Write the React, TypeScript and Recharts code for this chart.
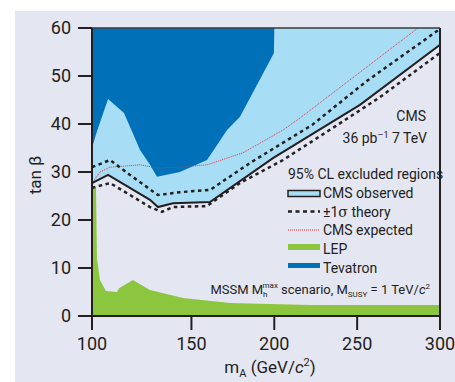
import {
  ComposedChart,
  Area,
  Line,
  XAxis,
  YAxis,
  ReferenceLine,
} from "recharts";

// m_A values (GeV/c^2) and tan(beta) values
const tevM = [90, 93, 99.7, 109.3, 119, 125, 129.2, 143, 159.4, 171.5, 179.3, 199.8, 200];
const tevT = [35, 38.5, 45.2, 42.3, 34.6, 31.5, 29, 30, 32.5, 38.75, 41.5, 54.8, 60];

const obsM = [90, 99.7, 125, 129.8, 138.9, 161.2, 199.2, 251.7, 300];
const obsT = [27.7, 29.4, 24.2, 22.7, 23.5, 23.75, 32.9, 44, 56.5];

const upM = [90, 100.9, 112.9, 129.8, 143.1, 161.2, 185.4, 222.8, 256, 300];
const upT = [31, 32.5, 29.4, 25.2, 25.8, 26.25, 31.9, 39.8, 49, 59.8];

const loM = [90, 100.9, 125, 132.2, 138.9, 159.4, 179.3, 205.3, 235.4, 263.8, 300];
const loT = [26.7, 27.7, 22.7, 21.7, 22.7, 22.9, 27.7, 32.5, 39.2, 45.6, 54.8];

const expM = [90, 94.8, 100.9, 119, 129.8, 141.3, 159.4, 181.1, 205.3, 215.5, 286.7];
const expT = [27.7, 30, 31, 31.5, 30.8, 31, 31.5, 34, 38.75, 41.25, 60];

const lepM = [90, 92.4, 93, 93.6, 94.8, 98.4, 105.1, 106.3, 114.7, 125, 144.9, 173.3, 221.6, 300];
const lepT = [26.9, 26.7, 12, 10.5, 7.5, 5.2, 5, 5.8, 7.5, 5.4, 3.75, 2.7, 2.3, 2.3];

const xTicks = [90, 150, 200, 250, 300];
const yTicks = [0, 10, 20, 30, 40, 50, 60];

const TOP = 60;
const FONT = "Roboto, 'Liberation Sans', sans-serif";
const INK = "#231f20";
const LIGHT = "#a8ddf6";
const DARK = "#0070b9";
const GREEN = "#8cc63f";
const RED = "#e8303a";

const zip = (m: number[], t: number[]) => m.map((v, i) => ({ m: v, t: t[i] }));
const band = (m: number[], t: number[]) =>
  m.map((v, i) => ({ m: v, range: [t[i], TOP] }));

const tevData = band(tevM, tevT);
const obsBand = band(obsM, obsT);
const obsData = zip(obsM, obsT);
const upData = zip(upM, upT);
const loData = zip(loM, loT);
const expData = zip(expM, expT);
const lepData = zip(lepM, lepT);

const Overlay = () => (
  <svg
    width={455}
    height={382}
    style={{ position: "absolute", left: 0, top: 0, pointerEvents: "none" }}
    fontFamily={FONT}
    fill={INK}
  >
    <text x={426} y={121} fontSize={14} textAnchor="end">CMS</text>
    <text x={427} y={143} fontSize={14} textAnchor="end">
      36 pb<tspan fontSize={9} dy={-5}>–1</tspan>
      <tspan dy={5}> 7 TeV</tspan>
    </text>
    <text x={288} y={179} fontSize={14}>95% CL excluded regions</text>

    <rect x={288} y={190.5} width={32} height={6} fill={LIGHT} stroke={INK} strokeWidth={1.5} />
    <text x={323} y={198} fontSize={14}>CMS observed</text>

    <line x1={288} x2={320} y1={211.5} y2={211.5} stroke={INK} strokeWidth={2.5} strokeDasharray="4 3.5" />
    <text x={323} y={216.5} fontSize={14}>
      ±1<tspan fontFamily="'DejaVu Serif', 'Liberation Serif', serif">σ</tspan> theory
    </text>

    <line x1={288} x2={320} y1={230} y2={230} stroke={RED} strokeWidth={1} strokeDasharray="1 1" />
    <text x={323} y={235} fontSize={14}>CMS expected</text>

    <rect x={288} y={244} width={32} height={6} fill={GREEN} />
    <text x={323} y={253.5} fontSize={14}>LEP</text>

    <rect x={288} y={263} width={32} height={5} fill={DARK} />
    <text x={323} y={272.5} fontSize={14}>Tevatron</text>

    <text x={430} y={293.5} fontSize={13} textAnchor="end">
      MSSM M<tspan fontSize={8} dy={3}>h</tspan>
      <tspan fontSize={8} dx={-5} dy={-9}>max</tspan>
      <tspan dy={6}> scenario, M</tspan>
      <tspan fontSize={8} dy={3}>SUSY</tspan>
      <tspan dy={-3}> = 1 TeV/</tspan>
      <tspan fontStyle="italic">c</tspan>
      <tspan fontSize={8} dy={-5}>2</tspan>
    </text>

    <text x={270} y={373} fontSize={17} textAnchor="middle">
      m<tspan fontSize={11} dy={4}>A</tspan>
      <tspan dy={-4}> (GeV/</tspan>
      <tspan fontStyle="italic">c</tspan>
      <tspan fontSize={11} dy={-7}>2</tspan>
      <tspan dy={7}>)</tspan>
    </text>

    <text x={41} y={175} fontSize={17} textAnchor="middle" transform="rotate(-90 41 175)">
      tan β
    </text>
  </svg>
);

export default function App() {
  return (
    <div
      style={{
        position: "absolute",
        left: 0,
        top: 0,
        width: 455,
        height: 382,
        background: "#ffffff",
        fontFamily: FONT,
      }}
    >
      <div
        style={{
          position: "absolute",
          left: 15,
          top: 11,
          width: 440,
          height: 371,
          background: "#e4e6f2",
        }}
      />
      <div style={{ position: "absolute", left: 0, top: 0 }}>
        <ComposedChart
          width={455}
          height={382}
          margin={{ top: 28, right: 15, bottom: 16, left: 32 }}
        >
          <Area
            data={obsBand}
            dataKey="range"
            type="linear"
            fill={LIGHT}
            fillOpacity={1}
            stroke="none"
            isAnimationActive={false}
          />
          <Area
            data={tevData}
            dataKey="range"
            type="linear"
            fill={DARK}
            fillOpacity={1}
            stroke="none"
            isAnimationActive={false}
          />
          <Area
            data={lepData}
            dataKey="t"
            type="linear"
            fill={GREEN}
            fillOpacity={1}
            stroke="none"
            baseValue={0}
            isAnimationActive={false}
          />
          <Line
            data={expData}
            dataKey="t"
            type="linear"
            stroke={RED}
            strokeWidth={1}
            strokeDasharray="1 1"
            dot={false}
            isAnimationActive={false}
          />
          <Line
            data={upData}
            dataKey="t"
            type="linear"
            stroke={INK}
            strokeWidth={2.5}
            strokeDasharray="3.5 3.5"
            dot={false}
            isAnimationActive={false}
          />
          <Line
            data={loData}
            dataKey="t"
            type="linear"
            stroke={INK}
            strokeWidth={2.5}
            strokeDasharray="3.5 3.5"
            dot={false}
            isAnimationActive={false}
          />
          <Line
            data={obsData}
            dataKey="t"
            type="linear"
            stroke={INK}
            strokeWidth={2}
            dot={false}
            isAnimationActive={false}
          />
          <ReferenceLine y={60} stroke="#3a3a3a" strokeWidth={1.5} />
          <ReferenceLine x={300} stroke={INK} strokeWidth={2} />
          <XAxis
            type="number"
            dataKey="m"
            domain={[90, 300]}
            ticks={xTicks}
            allowDataOverflow
            height={50}
            tickSize={14}
            tickMargin={7}
            tickFormatter={(v: number) => (v === 90 ? "100" : String(v))}
            tick={{ fill: INK, fontSize: 18, fontFamily: FONT }}
            axisLine={{ stroke: INK, strokeWidth: 2 }}
            tickLine={{ stroke: INK, strokeWidth: 2 }}
          />
          <YAxis
            type="number"
            domain={[0, 60]}
            ticks={yTicks}
            allowDataOverflow
            width={60}
            tickSize={14}
            tickMargin={7}
            tick={{ fill: INK, fontSize: 18, fontFamily: FONT }}
            axisLine={{ stroke: INK, strokeWidth: 2 }}
            tickLine={{ stroke: INK, strokeWidth: 2 }}
          />
        </ComposedChart>
      </div>
      <Overlay />
    </div>
  );
}
